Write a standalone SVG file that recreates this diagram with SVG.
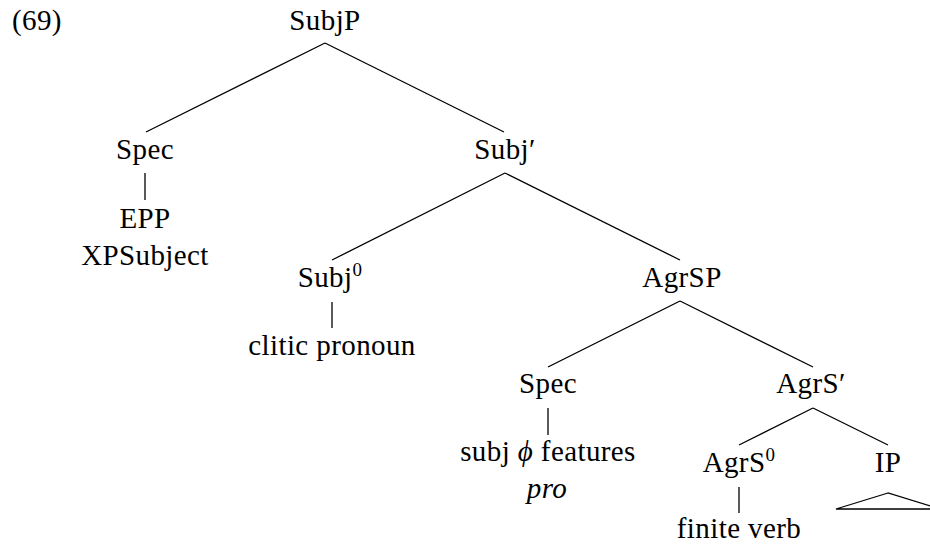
<svg xmlns="http://www.w3.org/2000/svg" width="930" height="546" viewBox="0 0 930 546">
  <style>
    text { font-family: "Liberation Serif", Tinos, "Noto Serif", Times, "DejaVu Serif", serif; font-size: 29px; fill: #000; text-anchor: middle; letter-spacing: 0.4px; }
    .sup { font-size: 19px; }
    .it { font-style: italic; }
    .edge { stroke: #000; stroke-width: 1.3; fill: none; }
  </style>
  <rect width="930" height="546" fill="#fff"/>

  <!-- example number -->
  <text x="12" y="30" style="text-anchor:start">(69)</text>

  <!-- branches -->
  <g id="connectors">
    <line class="edge" x1="325" y1="43" x2="146" y2="132"/>
    <line class="edge" x1="325" y1="43" x2="504" y2="132"/>
    <line class="edge" x1="145" y1="173" x2="145" y2="200"/>
    <line class="edge" x1="505" y1="173" x2="332" y2="260"/>
    <line class="edge" x1="505" y1="173" x2="680" y2="260"/>
    <line class="edge" x1="332" y1="302" x2="332" y2="328"/>
    <line class="edge" x1="680" y1="301" x2="548" y2="367"/>
    <line class="edge" x1="680" y1="301" x2="813" y2="367"/>
    <line class="edge" x1="548" y1="408" x2="548" y2="435"/>
    <line class="edge" x1="813" y1="408" x2="739" y2="445"/>
    <line class="edge" x1="813" y1="408" x2="888" y2="445"/>
    <line class="edge" x1="739" y1="487" x2="739" y2="513"/>
    <!-- IP subtree abbreviated by a triangle -->
    <polygon class="edge" points="888,493 836,509 940,509"/>
  </g>

  <g id="subjp"><text x="325" y="30">SubjP</text></g>
  <g id="spec1"><text x="145" y="159">Spec</text></g>
  <g id="epp">
    <text x="145" y="228">EPP</text>
    <text x="145" y="265">XPSubject</text>
  </g>
  <g id="subjbar"><text x="505" y="159">Subj′</text></g>
  <g id="subj0"><text x="330" y="287">Subj<tspan class="sup" dy="-11">0</tspan></text></g>
  <g id="clitic"><text x="332" y="355">clitic pronoun</text></g>
  <g id="agrsp"><text x="682" y="287">AgrSP</text></g>
  <g id="spec2"><text x="548" y="393">Spec</text></g>
  <g id="features">
    <text x="548" y="461">subj <tspan class="it">ϕ</tspan> features</text>
    <text x="547" y="498" class="it">pro</text>
  </g>
  <g id="agrsbar"><text x="811" y="393">AgrS′</text></g>
  <g id="agrs0"><text x="739" y="472">AgrS<tspan class="sup" dy="-11">0</tspan></text></g>
  <g id="ip"><text x="888" y="472">IP</text></g>
  <g id="verb"><text x="739" y="538">finite verb</text></g>
</svg>
